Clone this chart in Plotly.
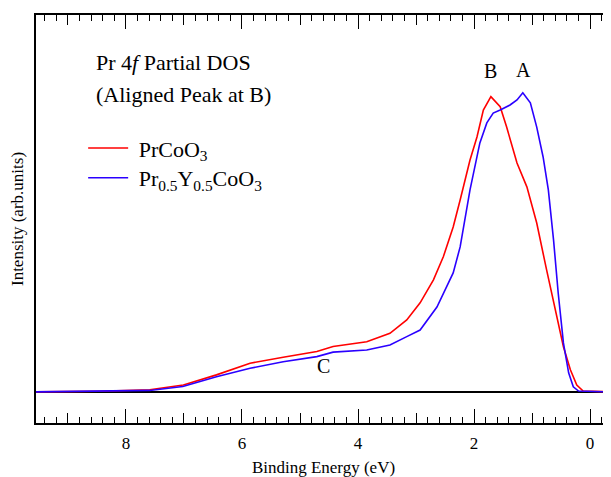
import plotly.graph_objects as go

# Binding energy (eV) and intensity (arb. units)
energy_prco = [9.55, 8.45, 7.59, 7.01, 6.44, 5.86, 5.29, 4.71, 4.43, 3.85, 3.45, 3.16,
               2.93, 2.70, 2.53, 2.36, 2.24, 2.07, 1.95, 1.84, 1.71, 1.55, 1.44, 1.26,
               1.09, 0.92, 0.75, 0.57, 0.46, 0.34, 0.23, 0.12, -0.36]
int_prco = [0.0, 0.002, 0.007, 0.023, 0.057, 0.096, 0.116, 0.135, 0.152, 0.168, 0.196, 0.241,
            0.298, 0.375, 0.452, 0.552, 0.642, 0.776, 0.853, 0.943, 0.988, 0.954, 0.887, 0.766,
            0.686, 0.565, 0.408, 0.251, 0.151, 0.074, 0.023, 0.003, 0.0]

energy_pryco = [9.55, 8.45, 7.59, 7.02, 6.44, 5.86, 5.29, 4.71, 4.43, 3.85, 3.45, 3.16,
                2.93, 2.64, 2.47, 2.36, 2.24, 2.07, 1.90, 1.78, 1.67, 1.55, 1.38, 1.26,
                1.16, 1.03, 0.92, 0.81, 0.72, 0.63, 0.55, 0.46, 0.37, 0.29, 0.20, -0.36]
int_pryco = [0.0, 0.002, 0.005, 0.018, 0.051, 0.079, 0.101, 0.118, 0.133, 0.140, 0.157, 0.185,
             0.207, 0.284, 0.351, 0.398, 0.485, 0.676, 0.833, 0.900, 0.933, 0.943, 0.960, 0.977,
             1.001, 0.967, 0.886, 0.786, 0.676, 0.508, 0.331, 0.164, 0.064, 0.017, 0.003, 0.0]

label_names = ["B", "A", "C"]
label_energy = [1.71, 1.14, 4.60]
label_int = [1.074, 1.077, 0.087]

FONT = "Liberation Serif"

fig = go.Figure()
fig.add_trace(go.Scatter(x=energy_prco, y=int_prco, mode="lines", name="\u00a0PrCoO<sub>3</sub>",
                         legend="legend",
                         line=dict(color="#ff0000", width=1.6)))
fig.add_trace(go.Scatter(x=energy_pryco, y=int_pryco, mode="lines",
                         name="\u00a0Pr<sub>0.5</sub>Y<sub>0.5</sub>CoO<sub>3</sub>",
                         legend="legend2",
                         line=dict(color="#2a00ff", width=1.6)))
# medium ticks at every 1 eV via an overlaying axis
fig.add_trace(go.Scatter(x=[5], y=[None], xaxis="x2", showlegend=False, hoverinfo="skip"))

for n, e, i in zip(label_names, label_energy, label_int):
    fig.add_annotation(x=e, y=i, text=n, showarrow=False, font=dict(family=FONT, size=20, color="black"))

fig.add_annotation(x=8.55, y=1.102, xanchor="left", text="Pr 4<i>f</i> Partial DOS", showarrow=False,
                   font=dict(family=FONT, size=22, color="black"))
fig.add_annotation(x=8.55, y=0.995, xanchor="left", text="(Aligned Peak at B)", showarrow=False,
                   font=dict(family=FONT, size=22, color="black"))

xr = [9.55, -0.36]
leg_common = dict(xanchor="left", yanchor="top", bgcolor="rgba(0,0,0,0)",
                  font=dict(family=FONT, size=22), itemwidth=40)
fig.update_layout(
    width=603, height=469,
    margin=dict(l=28, r=0, t=7, b=54),
    paper_bgcolor="white", plot_bgcolor="white",
    font=dict(family=FONT, size=17, color="black"),
    legend=dict(x=0.082, y=0.725, **leg_common),
    legend2=dict(x=0.082, y=0.652, **leg_common),
    xaxis=dict(range=xr, dtick=2, tick0=0, ticks="inside", ticklen=14, tickwidth=1.2,
               tickcolor="black", showline=True, linecolor="black", linewidth=1.5,
               mirror="ticks", showgrid=False, zeroline=False, automargin=False,
               ticklabelstandoff=4,
               minor=dict(dtick=0.2, tick0=0, ticks="inside", ticklen=6, tickwidth=1, tickcolor="black"),
               title=dict(text="Binding Energy (eV)", font=dict(size=17), standoff=12),
               tickfont=dict(size=17)),
    xaxis2=dict(overlaying="x", matches="x", range=xr, dtick=1, tick0=0, ticks="inside", ticklen=10,
                tickwidth=1.2, tickcolor="black", showticklabels=False, showline=False,
                mirror="ticks", showgrid=False, zeroline=False, automargin=False),
    yaxis=dict(range=[-0.104, 1.261], showticklabels=False, ticks="", showgrid=False,
               showline=True, linecolor="black", linewidth=1.5, zeroline=True,
               zerolinecolor="black", zerolinewidth=1.5, automargin=False,
               title=dict(text="Intensity (arb.units)", font=dict(size=17), standoff=9)),
)

fig.write_html("out.html")
